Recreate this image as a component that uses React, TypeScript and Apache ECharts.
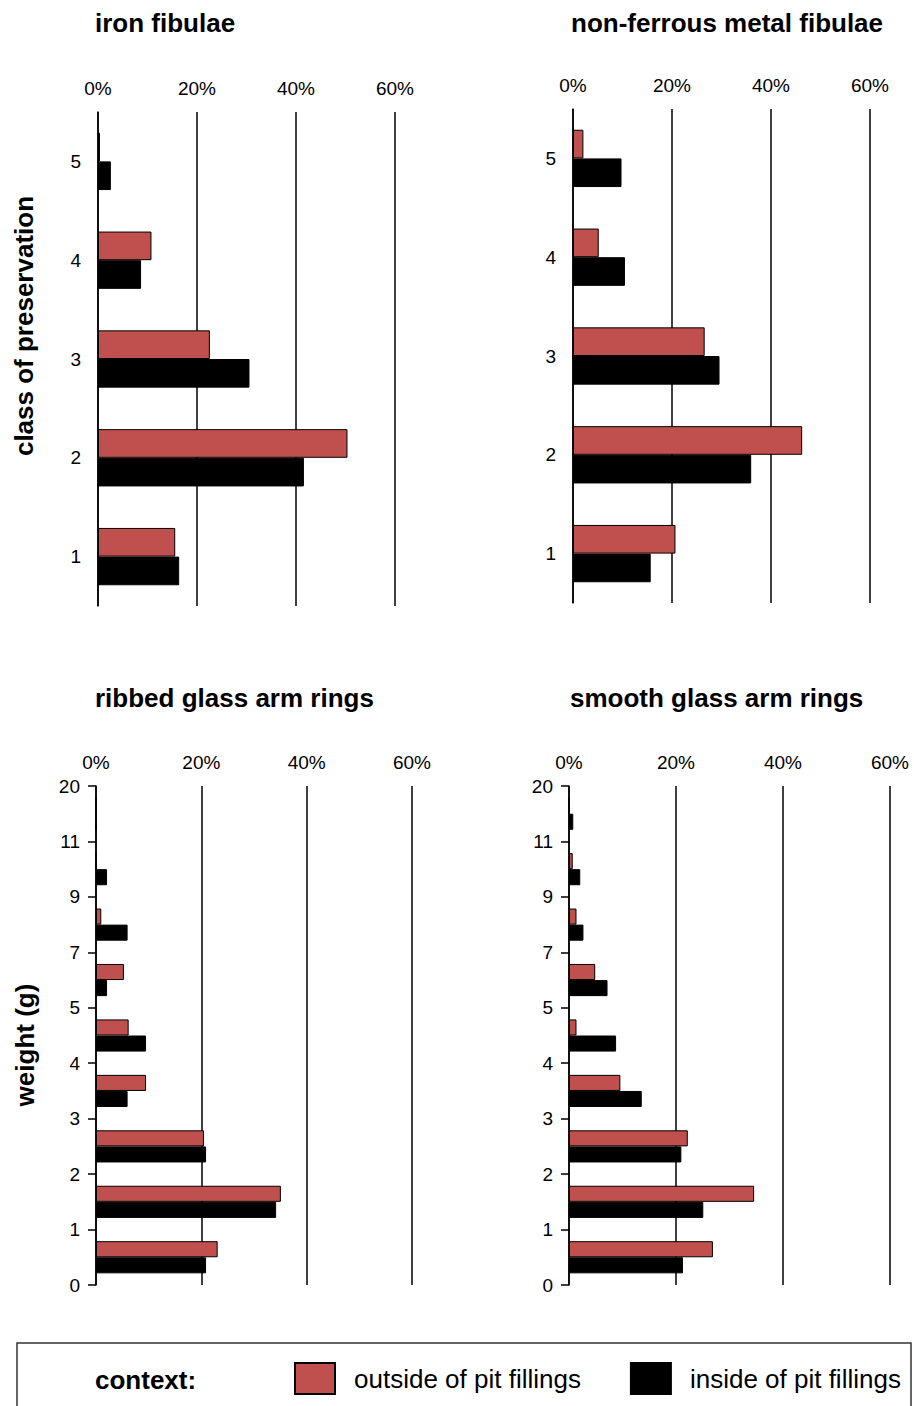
import React, { useEffect, useRef } from "react";
import * as echarts from "echarts";

const preservationClasses = ["1", "2", "3", "4", "5"];
const ironOutside = [15.6, 50.4, 22.6, 10.8, 0.4];
const ironInside = [16.4, 41.6, 30.6, 8.7, 2.6];
const nonFerrousOutside = [20.7, 46.3, 26.6, 5.2, 2.1];
const nonFerrousInside = [15.7, 36.0, 29.6, 10.5, 9.8];

const weightClasses = ["0-1", "1-2", "2-3", "3-4", "4-5", "5-7", "7-9", "9-11", "11-20"];
const weightTickLabels = ["0", "1", "2", "3", "4", "5", "7", "9", "11", "20"];
const ribbedOutside = [23.1, 35.1, 20.5, 9.5, 6.2, 5.3, 1.0, 0, 0];
const ribbedInside = [20.9, 34.2, 20.9, 6.0, 9.5, 2.1, 6.0, 2.1, 0];
const smoothOutside = [26.9, 34.6, 22.2, 9.6, 1.4, 4.9, 1.4, 0.7, 0];
const smoothInside = [21.3, 25.1, 21.0, 13.6, 8.8, 7.2, 2.7, 2.1, 0.8];

const seriesNames = ["outside of pit fillings", "inside of pit fillings"];
const panelTitles = ["iron fibulae", "non-ferrous metal fibulae", "ribbed glass arm rings", "smooth glass arm rings"];
const axisNames = ["class of preservation", "weight (g)"];
const legendTitle = "context:";

const RED = "#C0504D";
const BLACK = "#000000";
const FONT = "'Liberation Sans', Arial, sans-serif";

export default function App() {
  const ref = useRef<HTMLDivElement>(null);
  useEffect(() => {
    if (!ref.current) return;
    const chart = echarts.init(ref.current, null, { renderer: "svg" });
    const line = { color: "#000", width: 1.5 };

    const grids = [
      { left: 98, top: 112, width: 297, height: 494 },
      { left: 573, top: 109, width: 297, height: 494 },
      { left: 96, top: 786, width: 316, height: 499 },
      { left: 569, top: 786, width: 321, height: 499 },
    ];

    const xAxes = grids.map((_, i) => ({
      type: "value",
      gridIndex: i,
      position: "top",
      min: 0,
      max: 60,
      interval: 20,
      axisLine: { show: false, onZero: false },
      axisTick: { show: false },
      axisLabel: { formatter: "{value}%", fontSize: 19, color: "#000", margin: 14, fontFamily: FONT },
      splitLine: { show: true, lineStyle: { color: "#000", width: 1.5 } },
    }));

    const catAxisTop = (g: number) => ({
      type: "category",
      gridIndex: g,
      position: "left",
      data: preservationClasses,
      axisLine: { show: true, onZero: false, lineStyle: line },
      axisTick: { show: false },
      axisLabel: { fontSize: 19, color: "#000", margin: 17, fontFamily: FONT },
    });
    const catAxisHidden = (g: number) => ({
      type: "category",
      gridIndex: g,
      position: "right",
      data: weightClasses,
      show: false,
    });
    const weightAxis = (g: number) => ({
      type: "value",
      gridIndex: g,
      position: "left",
      min: 0,
      max: 9,
      interval: 1,
      axisLine: { show: true, onZero: false, lineStyle: line },
      axisTick: { show: true, length: 8, lineStyle: line },
      axisLabel: {
        formatter: (v: number) => weightTickLabels[Math.round(v)] ?? "",
        fontSize: 19,
        color: "#000",
        margin: 16,
        fontFamily: FONT,
      },
      splitLine: { show: false },
    });

    const yAxes = [catAxisTop(0), catAxisTop(1), catAxisHidden(2), weightAxis(2), catAxisHidden(3), weightAxis(3)];

    const bar = (name: string, color: string, xi: number, yi: number, data: number[]) => ({
      type: "bar",
      name,
      xAxisIndex: xi,
      yAxisIndex: yi,
      data,
      barWidth: "29%",
      barGap: "0%",
      itemStyle: { color, borderColor: BLACK, borderWidth: 1 },
      emphasis: { disabled: true },
    });

    const series = [
      bar(seriesNames[0], RED, 0, 0, ironOutside),
      bar(seriesNames[1], BLACK, 0, 0, ironInside),
      bar(seriesNames[0], RED, 1, 1, nonFerrousOutside),
      bar(seriesNames[1], BLACK, 1, 1, nonFerrousInside),
      bar(seriesNames[0], RED, 2, 2, ribbedOutside),
      bar(seriesNames[1], BLACK, 2, 2, ribbedInside),
      bar(seriesNames[0], RED, 3, 4, smoothOutside),
      bar(seriesNames[1], BLACK, 3, 4, smoothInside),
    ];

    const titleText = (text: string, x: number, y: number) => ({
      type: "text",
      x,
      y,
      style: { text, fontSize: 26, fontWeight: "bold", fill: "#000", fontFamily: FONT, align: "left", verticalAlign: "middle" },
    });
    const rotText = (text: string, x: number, y: number) => ({
      type: "text",
      x,
      y,
      rotation: Math.PI / 2,
      style: { text, fontSize: 26, fontWeight: "bold", fill: "#000", fontFamily: FONT, align: "center", verticalAlign: "middle" },
    });

    chart.setOption({
      animation: false,
      textStyle: { fontFamily: FONT },
      grid: grids,
      xAxis: xAxes,
      yAxis: yAxes,
      series,
      legend: {
        left: 294,
        top: 1362,
        padding: 0,
        itemWidth: 40,
        itemHeight: 31,
        itemGap: 49,
        icon: "rect",
        selectedMode: false,
        data: seriesNames,
        textStyle: { fontSize: 26, color: "#000", fontFamily: FONT, padding: [0, 0, 0, 14] },
      },
      graphic: [
        titleText(panelTitles[0], 95, 23),
        titleText(panelTitles[1], 571, 23),
        titleText(panelTitles[2], 95, 698),
        titleText(panelTitles[3], 570, 698),
        rotText(axisNames[0], 24, 326),
        rotText(axisNames[1], 25, 1045),
        {
          type: "rect",
          z: -1,
          shape: { x: 17, y: 1343, width: 894, height: 90 },
          style: { fill: "none", stroke: "#333", lineWidth: 1.5 },
        },
        titleText(legendTitle, 95, 1380),
      ],
    });
    return () => chart.dispose();
  }, []);
  return <div ref={ref} style={{ position: "absolute", left: 0, top: 0, width: 914, height: 1406 }} />;
}
